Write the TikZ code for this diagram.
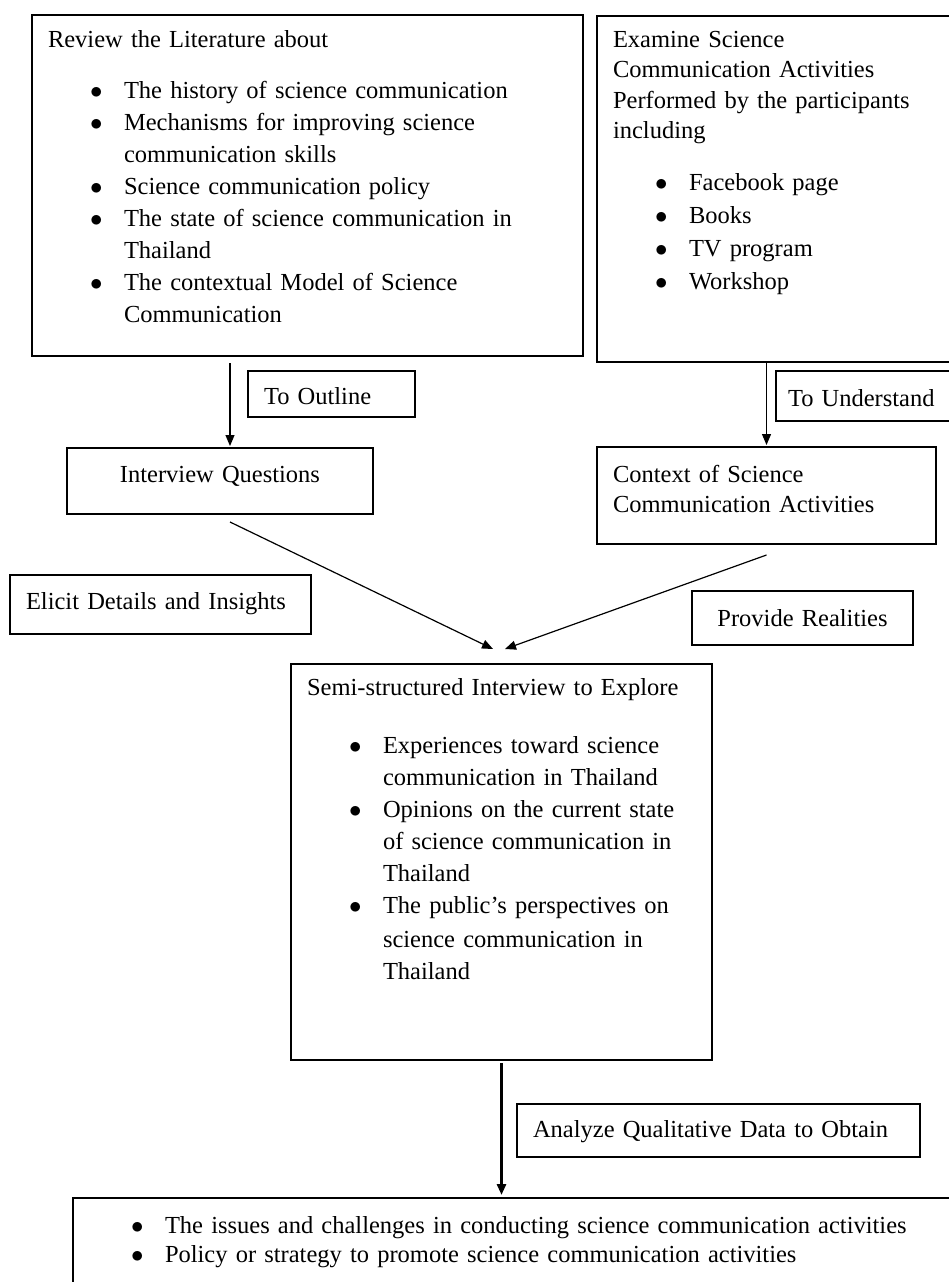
\documentclass[tikz,border=0pt]{standalone}
\usepackage{fontspec}
\setmainfont{Liberation Serif}
\usetikzlibrary{arrows.meta}
\newcommand{\bitem}{\hspace*{42pt}\makebox[34pt][l]{$\bullet$}}
\newcommand{\bcont}{\hspace*{76pt}}

\begin{document}
\begin{tikzpicture}[x=1pt, y=-1pt,
    box/.style={draw, line width=1.3pt, anchor=north west, inner xsep=16pt, inner ysep=0pt,
      outer sep=0pt, align=left, font=\fontsize{24.5}{32}\selectfont},
    flow/.style={-{Triangle[length=11pt,width=9pt]}, line width=1.2pt},
    bigflow/.style={flow, line width=3pt}]

    \useasboundingbox (0,0) rectangle (949,1282);

    % Boxes of the first row
    \node (lit) [box, text width=519pt, text height=32pt, text depth=309pt] at (32,15)
      {Review the Literature about\\[19pt]
       \bitem The history of science communication\\
       \bitem Mechanisms for improving science\\
       \bcont communication skills\\
       \bitem Science communication policy\\
       \bitem The state of science communication in\\
       \bcont Thailand\\
       \bitem The contextual Model of Science\\
       \bcont Communication};
    \node (act) [box, text width=331pt, text height=31pt, text depth=315pt,
      font=\fontsize{24.5}{30.5}\selectfont] at (597,16)
      {Examine Science\\
       Communication Activities\\
       Performed by the participants\\
       including\\[21.5pt]
       \bitem Facebook page\\[2.5pt]
       \bitem Books\\[2.5pt]
       \bitem TV program\\[2.5pt]
       \bitem Workshop};

    % Labels and the second row
    \node (outline) [box, text width=135pt, text height=33pt, text depth=13pt] at (248,371) {To Outline};
    \node (underst) [box, inner xsep=12pt, text width=150pt, text height=35pt, text depth=15pt] at (776,371)
      {To Understand};
    \node (iq) [box, align=center, text width=274pt, text height=34pt, text depth=32pt] at (67,448)
      {Interview Questions};
    \node (ctx) [box, text width=307pt, text height=35pt, text depth=62pt,
      font=\fontsize{24.5}{30}\selectfont] at (597,447)
      {Context of Science\\ Communication Activities};
    \node (elicit) [box, text width=269pt, text height=34pt, text depth=25pt] at (10,575)
      {Elicit Details and Insights};
    \node (real) [box, align=center, text width=189pt, text height=35pt, text depth=19pt] at (692,591)
      {Provide Realities};

    % Interview and its outcome
    \node (semi) [box, text width=389pt, text height=31pt, text depth=365pt] at (291,664)
      {Semi-structured Interview to Explore\\[26pt]
       \bitem Experiences toward science\\
       \bcont communication in Thailand\\
       \bitem Opinions on the current state\\
       \bcont of science communication in\\
       \bcont Thailand\\
       \bitem The public’s perspectives on\\[2pt]
       \bcont science communication in\\
       \bcont Thailand};
    \node (analyze) [box, text width=371pt, text height=33pt, text depth=20pt] at (517,1104)
      {Analyze Qualitative Data to Obtain};
    \node (res) [box, text width=855pt, text height=35pt, text depth=80pt,
      font=\fontsize{24.5}{29}\selectfont] at (73,1198)
      {\bitem The issues and challenges in conducting science communication activities\\
       \bitem Policy or strategy to promote science communication activities};

    % Edges
    \coordinate (resin) at (semi.south |- res.north);
    \draw[flow] ([shift={(-77.5,7)}]lit.south) -- ([shift={(10,-2)}]iq.north);
    \draw[flow] (act.south -| ctx.north) -- ([shift={(0,-2)}]ctx.north);
    \draw[flow] ([shift={(10,8)}]iq.south) -- ([shift={(-8.5,-15)}]semi.north);
    \draw[flow] ([shift={(0,11)}]ctx.south) -- ([shift={(3.5,-15)}]semi.north);
    \draw[bigflow] ([shift={(0,3)}]semi.south) -- ([shift={(0,-3)}]resin);
\end{tikzpicture}
\end{document}
